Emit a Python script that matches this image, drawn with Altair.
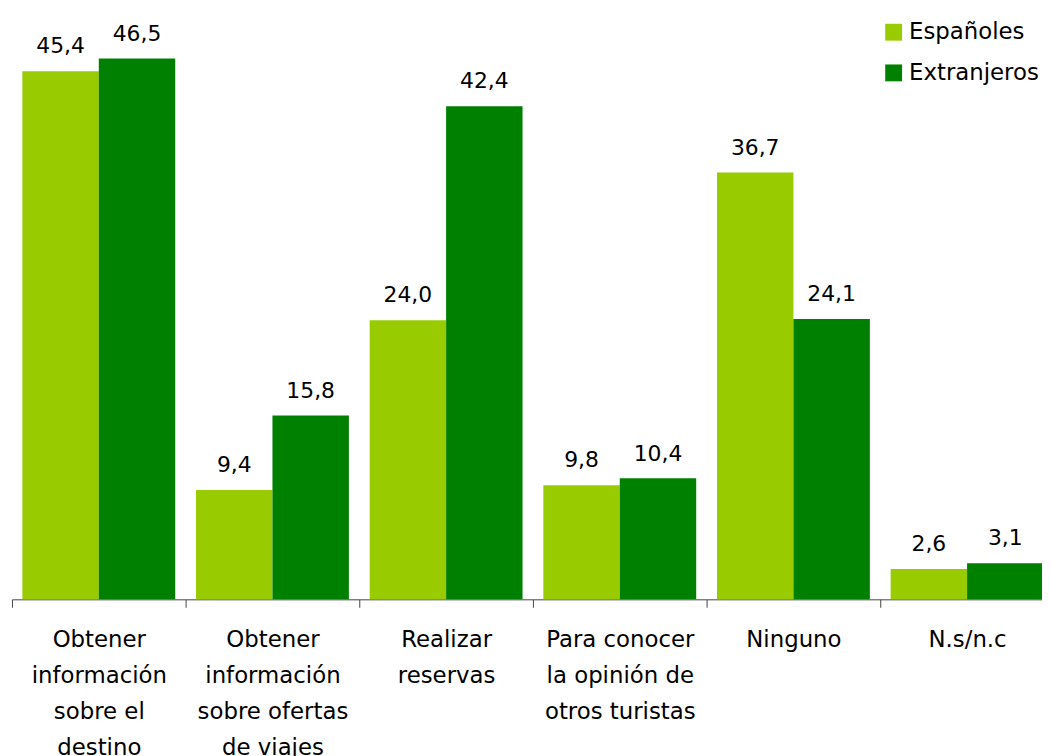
import altair as alt
import pandas as pd

categories = [
    "Obtener|información|sobre el|destino",
    "Obtener|información|sobre ofertas|de viajes",
    "Realizar|reservas",
    "Para conocer|la opinión de|otros turistas",
    "Ninguno",
    "N.s/n.c",
]
series = ["Españoles", "Extranjeros"]
espanoles = [45.4, 9.4, 24.0, 9.8, 36.7, 2.6]
extranjeros = [46.5, 15.8, 42.4, 10.4, 24.1, 3.1]
colors = ["#99CC00", "#008000"]

rows = []
for c, a, b in zip(categories, espanoles, extranjeros):
    for s, v in zip(series, (a, b)):
        rows.append(dict(cat=c, serie=s, val=v, lab=f"{v:.1f}".replace(".", ",")))
df = pd.DataFrame(rows)

FONT = "DejaVu Sans"

x = alt.X(
    "cat:N",
    sort=categories,
    scale=alt.Scale(paddingInner=0, paddingOuter=0),
    axis=alt.Axis(
        title=None, labelAngle=0, labelExpr="split(datum.label, '|')",
        labelFontSize=23, labelFont=FONT, labelColor="black", labelLineHeight=36,
        labelPadding=22, tickBand="extent", tickSize=8, tickColor="#444",
        domainColor="#444", labelBaseline="top", labelLimit=0, grid=False,
    ),
)
xo = alt.XOffset("serie:N", sort=series, scale=alt.Scale(paddingOuter=0.136, paddingInner=0))
y = alt.Y("val:Q", scale=alt.Scale(domain=[0, 50.6]), axis=None)

bars = alt.Chart(df).mark_bar().encode(
    x=x, xOffset=xo, y=y,
    color=alt.Color(
        "serie:N", sort=series,
        scale=alt.Scale(domain=series, range=colors),
        legend=alt.Legend(
            title=None, orient="none", legendX=877, legendY=10,
            symbolType="square", symbolSize=289, symbolStrokeWidth=0,
            symbolOpacity=1, labelFontSize=23, labelFont=FONT, labelColor="black",
            rowPadding=17, labelOffset=4, labelLimit=0,
        ),
    ),
)

text = alt.Chart(df).mark_text(
    font=FONT, fontSize=22, baseline="alphabetic", dy=-18, color="black"
).encode(x=x, xOffset=xo, y=y, text="lab:N")

chart = (
    alt.layer(bars, text)
    .properties(
        width=1050, height=593,
        autosize=alt.AutoSizeParams(type="none"),
        padding={"left": 4, "top": 0, "right": -12, "bottom": 155},
    )
    .configure_view(stroke=None)
)

chart.save("out.html", embed_options={"renderer": "svg", "actions": False})
